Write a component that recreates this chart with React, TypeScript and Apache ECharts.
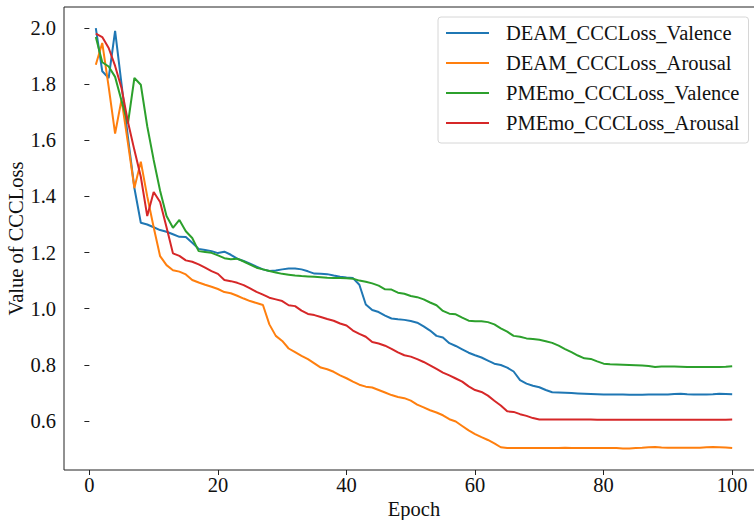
import React, { useEffect, useRef } from "react";
import * as echarts from "echarts";

const epochs: number[] = Array.from({ length: 100 }, (_, i) => i + 1);

const deamValence: number[] = [
  2.0, 1.846, 1.822, 1.99, 1.8, 1.61, 1.43, 1.306, 1.3, 1.29,
  1.28, 1.274, 1.265, 1.256, 1.255, 1.235, 1.213, 1.209, 1.205, 1.198,
  1.203, 1.192, 1.178, 1.17, 1.16, 1.15, 1.14, 1.134, 1.136, 1.14,
  1.143, 1.143, 1.14, 1.133, 1.125, 1.124, 1.123, 1.118, 1.114, 1.111,
  1.109, 1.085, 1.015, 0.995, 0.988, 0.975, 0.965, 0.962, 0.96, 0.956,
  0.95, 0.937, 0.922, 0.903, 0.897, 0.877, 0.867, 0.855, 0.843, 0.834,
  0.826, 0.815, 0.804, 0.799, 0.79, 0.776, 0.745, 0.733, 0.725, 0.72,
  0.71, 0.702, 0.701, 0.7, 0.699, 0.698, 0.697, 0.696, 0.695, 0.694,
  0.694, 0.694, 0.694, 0.693, 0.693, 0.693, 0.694, 0.694, 0.694, 0.694,
  0.696, 0.697, 0.695, 0.694, 0.694, 0.694, 0.695, 0.697, 0.696, 0.695,
];

const deamArousal: number[] = [
  1.869, 1.947, 1.79, 1.624, 1.745, 1.59, 1.43, 1.524, 1.4, 1.29,
  1.187, 1.155, 1.137, 1.132, 1.122, 1.102, 1.093, 1.085, 1.078, 1.07,
  1.059, 1.055, 1.046, 1.036, 1.027, 1.02, 1.013, 0.944, 0.903, 0.885,
  0.858, 0.845, 0.832, 0.82, 0.805, 0.79, 0.784, 0.775, 0.762, 0.752,
  0.74, 0.729, 0.722, 0.719, 0.71, 0.701, 0.692, 0.685, 0.681, 0.672,
  0.658, 0.648, 0.638, 0.63, 0.62, 0.606, 0.598, 0.582, 0.566, 0.553,
  0.542, 0.532, 0.52, 0.506, 0.503, 0.503, 0.503, 0.503, 0.503, 0.503,
  0.503, 0.503, 0.503, 0.504, 0.503, 0.503, 0.503, 0.503, 0.503, 0.503,
  0.503, 0.503, 0.502, 0.502, 0.503, 0.504, 0.506, 0.507, 0.505, 0.504,
  0.504, 0.504, 0.504, 0.504, 0.504, 0.506, 0.507, 0.506, 0.505, 0.503,
];

const pmemoValence: number[] = [
  1.968, 1.878, 1.863, 1.826, 1.741, 1.66, 1.822, 1.798, 1.65, 1.53,
  1.42, 1.33, 1.288, 1.316, 1.276, 1.252, 1.205, 1.202, 1.199, 1.19,
  1.18, 1.176, 1.178, 1.168, 1.157, 1.146, 1.14, 1.134, 1.129, 1.124,
  1.121, 1.118, 1.116, 1.115, 1.114, 1.112, 1.11, 1.109, 1.109, 1.108,
  1.107, 1.1, 1.096, 1.09, 1.082, 1.069, 1.068, 1.057, 1.053, 1.045,
  1.041, 1.033, 1.022, 1.012, 0.992, 0.982, 0.98, 0.968, 0.957, 0.955,
  0.955, 0.952, 0.944, 0.93, 0.918, 0.903, 0.9, 0.894, 0.892, 0.889,
  0.884, 0.878, 0.868, 0.856, 0.845, 0.833, 0.823, 0.821, 0.812, 0.804,
  0.802, 0.801, 0.8, 0.799, 0.798, 0.797, 0.796, 0.792, 0.794, 0.794,
  0.794, 0.793, 0.792, 0.792, 0.792, 0.792, 0.792, 0.792, 0.793, 0.795,
];

const pmemoArousal: number[] = [
  1.98, 1.968, 1.929, 1.865, 1.786, 1.665, 1.565, 1.47, 1.33, 1.416,
  1.38, 1.29, 1.197, 1.188, 1.172, 1.167, 1.158, 1.146, 1.134, 1.124,
  1.102, 1.098, 1.092, 1.084, 1.072, 1.06, 1.05, 1.039, 1.033, 1.027,
  1.012, 1.009, 0.993, 0.981, 0.977, 0.97, 0.963, 0.957, 0.947, 0.94,
  0.922, 0.91, 0.9, 0.881, 0.876, 0.868, 0.857, 0.844, 0.834, 0.829,
  0.82, 0.81, 0.798, 0.785, 0.772, 0.762, 0.751, 0.74, 0.723, 0.71,
  0.703, 0.69, 0.672, 0.655, 0.634, 0.632, 0.624, 0.618, 0.61, 0.605,
  0.605, 0.605, 0.605, 0.605, 0.605, 0.605, 0.605, 0.605, 0.604, 0.604,
  0.604, 0.604, 0.604, 0.604, 0.604, 0.604, 0.604, 0.604, 0.604, 0.604,
  0.604, 0.604, 0.604, 0.604, 0.604, 0.604, 0.604, 0.604, 0.604, 0.605,
];

const seriesNames: string[] = [
  "DEAM_CCCLoss_Valence",
  "DEAM_CCCLoss_Arousal",
  "PMEmo_CCCLoss_Valence",
  "PMEmo_CCCLoss_Arousal",
];
const seriesColors: string[] = ["#1f77b4", "#ff7f0e", "#2ca02c", "#d62728"];
const seriesValues: number[][] = [deamValence, deamArousal, pmemoValence, pmemoArousal];

const xTicks: number[] = [0, 20, 40, 60, 80, 100];
const yTicks: number[] = [0.6, 0.8, 1.0, 1.2, 1.4, 1.6, 1.8, 2.0];

const FONT = "'Liberation Serif', 'Times New Roman', serif";

export default function App() {
  const ref = useRef<HTMLDivElement>(null);
  useEffect(() => {
    document.body.style.margin = "0";
    if (!ref.current) return;
    const chart = echarts.init(ref.current, undefined, { renderer: "svg" });
    chart.setOption({
      animation: false,
      backgroundColor: "#ffffff",
      textStyle: { fontFamily: FONT },
      grid: {
        left: 64,
        top: 7,
        width: 700,
        height: 463,
        outerBoundsMode: "none",
        containLabel: false,
        show: true,
        borderColor: "#222",
        borderWidth: 1,
        backgroundColor: "transparent",
      },
      legend: {
        left: 438,
        top: 17,
        orient: "vertical",
        padding: [4, 9, 8, 8],
        itemGap: 6,
        itemWidth: 43,
        itemHeight: 2,
        icon: "rect",
        borderColor: "#d6d6d6",
        borderWidth: 1,
        borderRadius: 3,
        backgroundColor: "rgba(255,255,255,0.8)",
        textStyle: {
          fontFamily: FONT,
          fontSize: 20.5,
          color: "#111",
          lineHeight: 24,
          padding: [0, 0, 0, 12],
        },
        data: seriesNames,
      },
      xAxis: {
        type: "value",
        min: -3.95,
        max: 104.95,
        name: "Epoch",
        nameLocation: "middle",
        nameGap: 28,
        nameMoveOverlap: false,
        nameTextStyle: { fontFamily: FONT, fontSize: 20.5, color: "#111", lineHeight: 22 },
        axisLine: { show: false },
        splitLine: { show: false },
        axisTick: {
          show: true,
          inside: false,
          length: 5,
          lineStyle: { color: "#222" },
          customValues: xTicks,
        },
        axisLabel: {
          fontFamily: FONT,
          fontSize: 20.5,
          color: "#111",
          margin: 4,
          customValues: xTicks,
          formatter: (v: number) => String(Math.round(v)),
        },
      },
      yAxis: {
        type: "value",
        min: 0.425,
        max: 2.075,
        name: "Value of CCCLoss",
        nameLocation: "middle",
        nameGap: 38,
        nameMoveOverlap: false,
        nameRotate: 90,
        nameTextStyle: { fontFamily: FONT, fontSize: 20.5, color: "#111" },
        axisLine: { show: false },
        splitLine: { show: false },
        axisTick: {
          show: true,
          inside: false,
          length: 5,
          lineStyle: { color: "#222" },
          customValues: yTicks,
        },
        axisLabel: {
          fontFamily: FONT,
          fontSize: 20.5,
          color: "#111",
          margin: 8,
          customValues: yTicks,
          formatter: (v: number) => v.toFixed(1),
        },
      },
      series: seriesNames.map((name, i) => ({
        name,
        type: "line",
        data: epochs.map((e, j) => [e, seriesValues[i][j]]),
        showSymbol: false,
        symbol: "none",
        lineStyle: { width: 2, color: seriesColors[i] },
        itemStyle: { color: seriesColors[i] },
        z: 2 + i,
      })),
    });
    return () => chart.dispose();
  }, []);
  return <div ref={ref} style={{ width: 754, height: 520 }} />;
}
